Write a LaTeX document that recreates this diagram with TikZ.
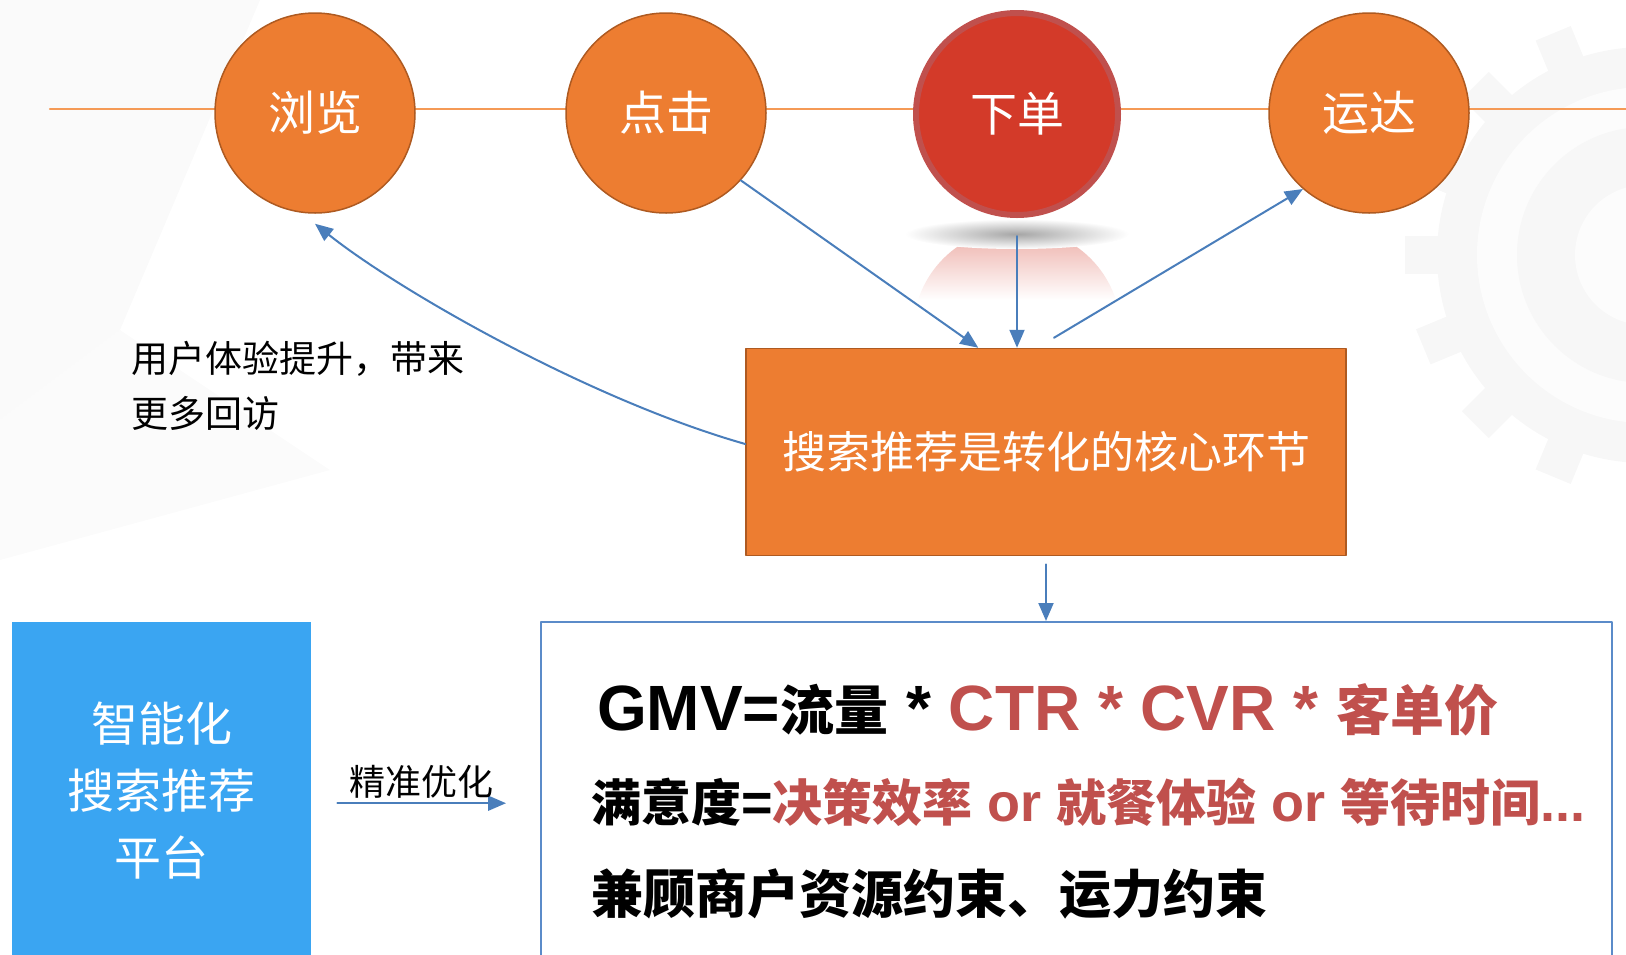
\documentclass[tikz,border=0pt]{standalone}
\usepackage{fontspec}
\setmainfont{Noto Sans CJK SC}
\newfontfamily\xifont{Liberation Sans}
\usepackage{xcolor}
\usetikzlibrary{arrows.meta}
\definecolor{chengse}{HTML}{ED7D31}
\definecolor{chengbian}{HTML}{AE5A21}
\definecolor{xianse}{HTML}{F59A56}
\definecolor{xiadanhong}{HTML}{D33A29}
\definecolor{xiadanbian}{HTML}{C0504D}
\definecolor{jiantou}{HTML}{4A7EBB}
\definecolor{pingtailan}{HTML}{3AA5F2}
\definecolor{kuangbian}{HTML}{5B8BC9}
\definecolor{hongzi}{HTML}{C0504D}
\newcommand{\xw}[2][64]{{\xifont\fontsize{#1}{70}\selectfont #2}}
\begin{document}
\begin{tikzpicture}[line cap=round,line join=round,>={Triangle[length=18pt,width=15pt]},x=1pt,y=-1pt,
  ball/.style={circle,draw=chengbian,line width=1.5pt,fill=chengse,minimum size=200pt,inner sep=0pt,text=white,font=\fontsize{47}{50}\selectfont},
  flow/.style={->,color=jiantou,line width=2pt},
  hang/.style={anchor=west,inner sep=0pt,font=\bfseries\fontsize{52}{56}\selectfont}]
\useasboundingbox (0,0) rectangle (1626,954);
\clip (0,0) rectangle (1626,954);
\begin{scope}[shift={(1645,255)}]
\foreach \a in {0,22.5,...,337.5}
\fill[gray!6,rotate=\a] (-19,0) rectangle (19,240);
\fill[gray!6] (0,0) circle (208);
\fill[gray!2] (0,0) circle (168);
\fill[gray!6] (0,0) circle (128);
\fill[gray!2] (0,0) circle (70);
\end{scope}
\fill[gray!4] (0,0) -- (260,0) -- (120,330) -- (0,420) -- cycle;
\fill[gray!3] (0,420) -- (120,330) -- (330,470) -- (0,560) -- cycle;
\coordinate (lstart) at (50,109);
\coordinate (lend) at (1626,109);
\draw[xianse,line width=2.5pt] (lstart) -- (lend);
\begin{scope}
\clip (1017,332) circle (104);
\shade[top color=xiadanhong!45,bottom color=white] (905,224) rectangle (1130,300);
\end{scope}
\shade[inner color=gray!70,outer color=white] (1017,234) ellipse (112 and 15);
\node[ball] (browse) at (315,113) {浏览};
\node[ball] (click) at (666,113) {点击};
\node[ball,fill=xiadanhong,draw=xiadanbian,line width=6pt,minimum size=202pt] (order) at (1017,114) {下单};
\node[ball] (deliver) at (1369,113) {运达};
\node[draw=chengbian,line width=1.5pt,fill=chengse,minimum width=600pt,minimum height=207pt,text=white,font=\fontsize{44}{48}\selectfont] (core) at (1046,452) {搜索推荐是转化的核心环节};
\node[fill=pingtailan,anchor=north west,minimum width=299pt,minimum height=336pt,text=white,align=center,font=\fontsize{47}{67}\selectfont] (platform) at (12,622) {智能化\\搜索推荐\\平台};
\node[draw=kuangbian,line width=1.5pt,fill=white,anchor=north west,minimum width=1071pt,minimum height=345pt] (goal) at (540,621) {};
\node[hang,font=\bfseries\fontsize{54}{60}\selectfont] (gmv) at (597,710) {\xw{GMV=}流量\xw{ * }\textcolor{hongzi}{\xw{CTR * CVR * }客单价}};
\node[hang,font=\bfseries\fontsize{50}{56}\selectfont] (manyi) at (591,802) {满意度\xw[54]{=}\textcolor{hongzi}{决策效率\xw[54]{ or }就餐体验\xw[54]{ or }等待时间\xw[54]{...}}};
\node[hang] (jiangu) at (591,894) {兼顾商户资源约束、运力约束};
\node[anchor=west,align=left,inner sep=0pt,font=\fontsize{37}{55}\selectfont] (huifang) at (131,386) {用户体验提升，带来\\更多回访};
\draw[flow] (click.-42) -- (core.123);
\draw[flow] ([yshift=-18pt]order.south) -- (core.north -| order);
\draw[flow] ([shift={(8,-10)}]core.north) -- (deliver.-131);
\draw[flow] ([yshift=8pt]core.west) .. controls +(-155,-44) and +(84,67) .. ([yshift=-10pt]browse.south);
\draw[flow] ([yshift=-8pt]core.south) -- (goal.north -| core);
\draw[flow] ([shift={(26,13)}]platform.east) -- ([shift={(-34,13)}]goal.west |- platform.east) node[midway,above,inner sep=4pt,text=black,font=\fontsize{36}{40}\selectfont] (jingzhun) {精准优化};
\end{tikzpicture}
\end{document}
